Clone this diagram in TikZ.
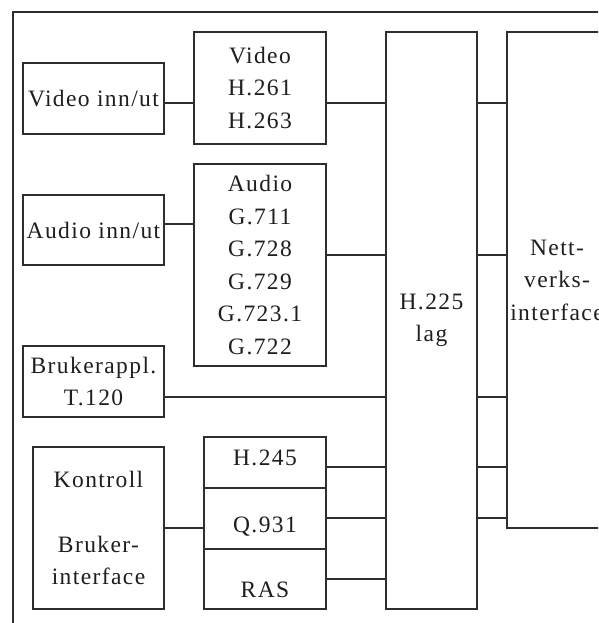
\documentclass[tikz,border=0pt]{standalone}
\usepackage{fontspec}
\newfontfamily\tfont[LetterSpace=6]{Liberation Serif}
\definecolor{linec}{HTML}{2E2E2E}
\definecolor{textc}{HTML}{1E1E1E}
\tikzset{
  box/.style={draw=linec, line width=1.3pt, inner sep=0pt, align=center,
    font=\tfont\fontsize{23.5}{32.5}\selectfont, text=textc},
  lbl/.style={inner sep=0pt, font=\tfont\fontsize{23.5}{32.5}\selectfont, text=textc},
  conn/.style={draw=linec, line width=1.3pt},
}
\begin{document}
\begin{tikzpicture}[x=1pt,y=-1pt]
\clip (0,0) rectangle (598,623);
\fill[white] (0,0) rectangle (598,623);
% outer frame
\draw[conn] (620,12) -- (13,12) -- (13,640);
% left column
\node[box, minimum width=141pt, minimum height=71pt] (vin) at (93.5,98.5) {Video inn/ut};
\node[box, minimum width=141pt, minimum height=70pt] (ain) at (93.5,230) {Audio inn/ut};
\node[box, minimum width=141pt, minimum height=71pt] (bru) at (93.5,381.5) {Brukerappl.\\T.120};
\node[box, minimum width=131pt, minimum height=162pt] (kon) at (98.5,528) {Kontroll\\[32.5pt]Bruker-\\interface};
% codec column
\node[box, minimum width=132pt, minimum height=112pt] (vid) at (260,88) {Video\\H.261\\H.263};
\node[box, minimum width=132pt, minimum height=202pt] (aud) at (260,265) {Audio\\G.711\\G.728\\G.729\\G.723.1\\G.722};
\node[box, minimum width=122pt, minimum height=51pt] (h245) at (265,462.5) {};
\node[box, minimum width=122pt, minimum height=61pt] (q931) at (265,518.5) {};
\node[box, minimum width=122pt, minimum height=60pt] (ras) at (265,579) {};
\node[lbl, anchor=base] (th245) at (265,465) {H.245};
\node[lbl, anchor=base] (tq931) at (265,532) {Q.931};
\node[lbl, anchor=base] (tras) at (265,597) {RAS};
% H.225 and network
\node[box, minimum width=91pt, minimum height=577pt] (h225) at (431.5,320.5) {H.225\\lag};
\node[box, minimum width=100pt, minimum height=496pt] (net) at (557,280) {Nett-\\verks-\\interface};
% level coordinates
\coordinate (l103) at (0,103);
\coordinate (l224) at (0,224);
\coordinate (l255) at (0,255);
\coordinate (l397) at (0,397);
\coordinate (l467) at (0,467);
\coordinate (l518) at (0,518);
\coordinate (l528) at (0,528);
\coordinate (l579) at (0,579);
% connectors
\draw[conn] (vin.east |- l103) -- (vid.west |- l103);
\draw[conn] (ain.east |- l224) -- (aud.west |- l224);
\draw[conn] (vid.east |- l103) -- (h225.west |- l103);
\draw[conn] (aud.east |- l255) -- (h225.west |- l255);
\draw[conn] (bru.east |- l397) -- (h225.west |- l397);
\draw[conn] (kon.east |- l528) -- (q931.west |- l528);
\draw[conn] (h245.east |- l467) -- (h225.west |- l467);
\draw[conn] (q931.east |- l518) -- (h225.west |- l518);
\draw[conn] (ras.east |- l579) -- (h225.west |- l579);
\draw[conn] (h225.east |- l103) -- (net.west |- l103);
\draw[conn] (h225.east |- l255) -- (net.west |- l255);
\draw[conn] (h225.east |- l397) -- (net.west |- l397);
\draw[conn] (h225.east |- l467) -- (net.west |- l467);
\draw[conn] (h225.east |- l518) -- (net.west |- l518);
\end{tikzpicture}
\end{document}
